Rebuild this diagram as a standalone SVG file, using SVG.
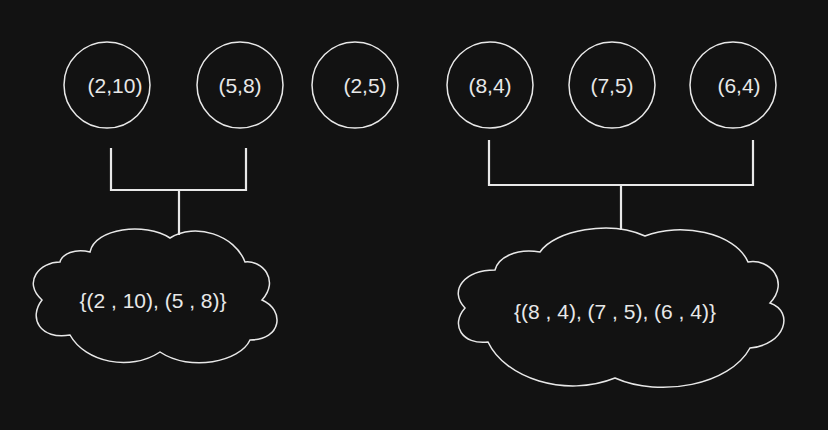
<svg xmlns="http://www.w3.org/2000/svg" width="828" height="430" viewBox="0 0 828 430">
<style>
.n{fill:none;stroke:#e8e8e8;stroke-width:1.5}
.t{fill:#e8e8e8;font-family:"Liberation Sans",Arial,sans-serif;font-size:21px;text-anchor:middle;dominant-baseline:central}
.c{fill:none;stroke:#e8e8e8;stroke-width:2.2}
</style>
<rect width="828" height="430" fill="#121212"/>
<g id="n1"><circle class="n" cx="107" cy="85" r="43"/><text class="t" x="115" y="85">(2,10)</text></g>
<g id="n2"><circle class="n" cx="240" cy="85" r="43"/><text class="t" x="240" y="85">(5,8)</text></g>
<g id="n3"><circle class="n" cx="355" cy="85" r="43"/><text class="t" x="365" y="85">(2,5)</text></g>
<g id="n4"><circle class="n" cx="490" cy="85" r="43"/><text class="t" x="490" y="85">(8,4)</text></g>
<g id="n5"><circle class="n" cx="612" cy="85" r="43"/><text class="t" x="612" y="85">(7,5)</text></g>
<g id="n6"><circle class="n" cx="733" cy="85" r="43"/><text class="t" x="739" y="85">(6,4)</text></g>
<g id="connectors">
<path class="c" d="M111 148V190H246V148M179 190V235"/>
<path class="c" d="M489 140V185H753V140M621 185V230"/>
</g>
<g id="cloud1">
<path class="n" d="M60 262C40 262 22 282 42 300C28 318 40 340 70 335C85 362 130 372 160 352C190 372 240 362 250 340C282 340 285 310 262 300C280 280 262 260 245 262C235 235 195 222 170 238C145 222 95 228 90 252C75 248 62 254 60 262Z"/>
<text class="t" x="153" y="300">{(2 , 10), (5 , 8)}</text>
</g>
<g id="cloud2">
<path class="n" d="M495 270C465 270 448 290 465 308C450 325 462 345 488 342C505 378 565 398 615 378C660 398 730 385 750 348C785 345 795 312 770 303C790 282 770 258 748 262C735 232 680 222 645 236C610 220 555 230 540 252C515 248 498 258 495 270Z"/>
<text class="t" x="615" y="311">{(8 , 4), (7 , 5), (6 , 4)}</text>
</g>
</svg>
